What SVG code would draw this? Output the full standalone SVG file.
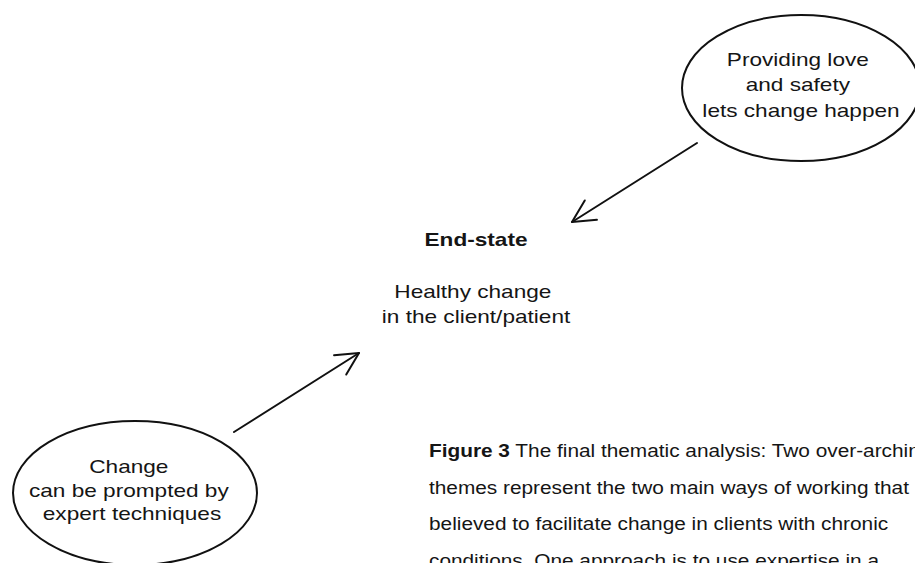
<svg xmlns="http://www.w3.org/2000/svg" width="915" height="563" viewBox="0 0 915 563">
  <style>
    .bg { fill: #ffffff; }
    .node-shape { fill: none; stroke: #111111; stroke-width: 2; }
    .edge { fill: none; stroke: #111111; stroke-width: 2; stroke-linecap: round; }
    .t { font-family: "Liberation Sans", Arial, sans-serif; font-size: 19px; fill: #151515; }
    .c { text-anchor: middle; }
    .b { font-weight: bold; }
    .cap { font-family: "Liberation Sans", Arial, sans-serif; font-size: 17.5px; fill: #151515; }
  </style>
  <defs>
    <marker id="arrow" markerUnits="userSpaceOnUse" markerWidth="40" markerHeight="40" viewBox="-30 -20 40 40" refX="0" refY="0" orient="auto" overflow="visible">
      <path d="M -22.3,-11.4 L 0,0 L -22.3,11.4" fill="none" stroke="#111111" stroke-width="2" stroke-linecap="round" stroke-linejoin="round"/>
    </marker>
  </defs>
  <rect class="bg" x="0" y="0" width="915" height="563"/>

  <g id="connectors">
    <line class="edge" x1="697" y1="143" x2="572" y2="222" marker-end="url(#arrow)"/>
    <line class="edge" x1="234" y1="432" x2="359" y2="353" marker-end="url(#arrow)"/>
  </g>

  <g id="node-love-safety">
    <ellipse class="node-shape" cx="801" cy="88" rx="119" ry="73"/>
    <text class="t c" transform="translate(801,0) scale(1.19,1)">
      <tspan x="0" y="66">Providing love</tspan>
      <tspan x="0" y="91.5">and safety</tspan>
      <tspan x="0" y="117">lets change happen</tspan>
    </text>
  </g>

  <g id="node-end-state">
    <text class="t c b" transform="translate(476,0) scale(1.19,1)"><tspan x="0" y="246">End-state</tspan></text>
    <text class="t c" transform="translate(476,0) scale(1.19,1)">
      <tspan x="0" y="298">Healthy change</tspan>
      <tspan x="0" y="323">in the client/patient</tspan>
    </text>
  </g>

  <g id="node-expert">
    <ellipse class="node-shape" cx="135" cy="493" rx="122" ry="72"/>
    <text class="t c" transform="translate(132,0) scale(1.19,1)">
      <tspan x="0" y="473">Change</tspan>
      <tspan x="0" y="497">can be prompted by</tspan>
      <tspan x="0" y="520">expert techniques</tspan>
    </text>
  </g>

  <g id="caption">
    <text class="cap" transform="translate(429,0) scale(1.19,1)">
      <tspan x="0" y="457"><tspan class="b">Figure 3</tspan> The final thematic analysis: Two over-archin</tspan>
      <tspan x="0" y="494">themes represent the two main ways of working that</tspan>
      <tspan x="0" y="530">believed to facilitate change in clients with chronic</tspan>
      <tspan x="0" y="567">conditions.  One approach is to use expertise in a</tspan>
    </text>
  </g>
</svg>
